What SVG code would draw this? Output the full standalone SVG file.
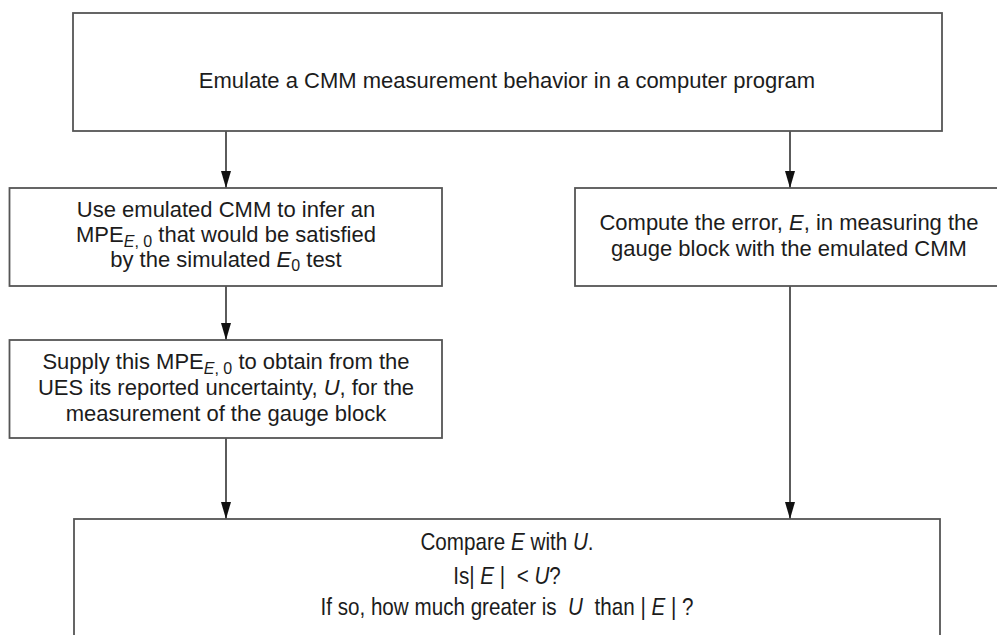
<svg xmlns="http://www.w3.org/2000/svg" width="997" height="635" viewBox="0 0 997 635">
  <defs>
    <style>
      .box { fill: #ffffff; stroke: #555555; stroke-width: 1.8; }
      .txt { font-family: "Liberation Sans", Arial, Helvetica, sans-serif; font-size: 22px; fill: #1c1c1c; text-anchor: middle; }
      .it { font-style: italic; }
      .sub { font-size: 16px; }
      .narrow { font-size: 24px; }
      .link { fill: none; stroke: #333333; stroke-width: 1.6; }
    </style>
    <marker id="arrow" markerUnits="userSpaceOnUse" markerWidth="10" markerHeight="17" viewBox="0 0 10 17" refX="5" refY="17" orient="0">
      <path d="M0,0 L10,0 L5,17 Z" fill="#111111"/>
    </marker>
  </defs>
  <rect width="997" height="635" fill="#ffffff"/>

  <!-- connectors -->
  <g id="connectors">
    <line class="link" x1="226" y1="131" x2="226" y2="188" marker-end="url(#arrow)"/>
    <line class="link" x1="790" y1="131" x2="790" y2="188" marker-end="url(#arrow)"/>
    <line class="link" x1="226" y1="286" x2="226" y2="340" marker-end="url(#arrow)"/>
    <line class="link" x1="226" y1="438" x2="226" y2="519" marker-end="url(#arrow)"/>
    <line class="link" x1="790" y1="286" x2="790" y2="519" marker-end="url(#arrow)"/>
  </g>

  <!-- emulate step -->
  <g id="emulate">
    <rect class="box" x="73" y="13" width="869" height="118"/>
    <text class="txt" x="507" y="88">Emulate a CMM measurement behavior in a computer program</text>
  </g>

  <!-- infer MPE step -->
  <g id="infer-mpe">
    <rect class="box" x="9.5" y="188" width="432.5" height="98"/>
    <text class="txt" x="226" y="217">Use emulated CMM to infer an</text>
    <text class="txt" x="226" y="242">MPE<tspan class="sub it" dy="5">E</tspan><tspan class="sub">, 0</tspan><tspan dy="-5"> that would be satisfied</tspan></text>
    <text class="txt" x="226" y="267">by the simulated <tspan class="it">E</tspan><tspan class="sub" dy="4">0</tspan><tspan dy="-4"> test</tspan></text>
  </g>

  <!-- compute error step -->
  <g id="compute-error">
    <rect class="box" x="575" y="188" width="440" height="98"/>
    <text class="txt" x="789" y="230">Compute the error, <tspan class="it">E</tspan>, in measuring the</text>
    <text class="txt" x="789" y="256">gauge block with the emulated CMM</text>
  </g>

  <!-- supply MPE step -->
  <g id="supply-mpe">
    <rect class="box" x="9.5" y="340" width="432.5" height="98"/>
    <text class="txt" x="226" y="369">Supply this MPE<tspan class="sub it" dy="5">E</tspan><tspan class="sub">, 0</tspan><tspan dy="-5"> to obtain from the</tspan></text>
    <text class="txt" x="226" y="395">UES its reported uncertainty, <tspan class="it">U</tspan>, for the</text>
    <text class="txt" x="226" y="421">measurement of the gauge block</text>
  </g>

  <!-- compare step (condensed lettering) -->
  <g id="compare">
    <rect class="box" x="74" y="519" width="866" height="200"/>
    <g transform="translate(507,0) scale(0.86,1)">
      <text class="txt narrow" x="0" y="550">Compare <tspan class="it">E</tspan> with <tspan class="it">U</tspan>.</text>
      <text class="txt narrow" x="0" y="584">Is| <tspan class="it">E</tspan> |&#160; &lt; <tspan class="it">U</tspan>?</text>
      <text class="txt narrow" x="0" y="615">If so, how much greater is&#160; <tspan class="it">U</tspan>&#160; than | <tspan class="it">E</tspan> | ?</text>
    </g>
  </g>
</svg>
